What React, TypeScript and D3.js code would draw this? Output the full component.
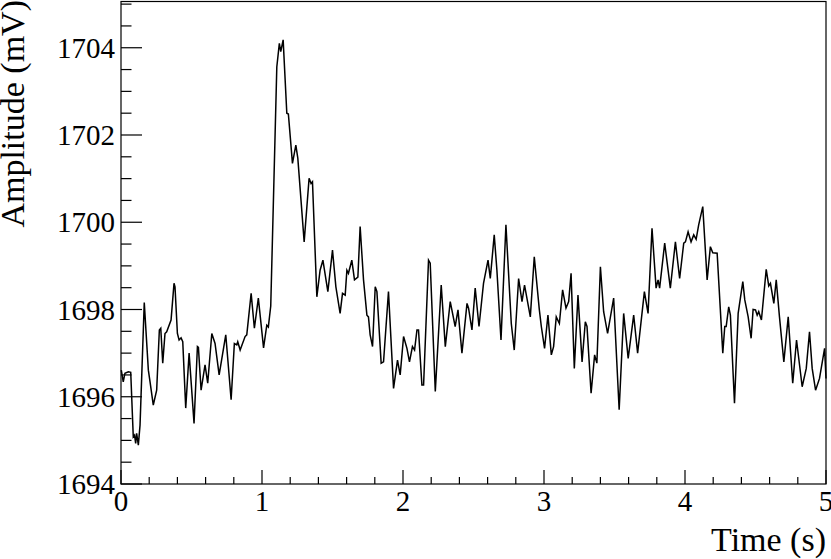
import React from 'react'
import * as d3 from 'd3'

// signal trace
const timeS = [
  0.002, 0.016, 0.028, 0.052, 0.069, 0.087, 0.096, 0.104, 0.111, 0.123,
  0.135, 0.165, 0.194, 0.206, 0.229, 0.253, 0.272, 0.282, 0.296, 0.312,
  0.324, 0.355, 0.376, 0.383, 0.400, 0.412, 0.426, 0.438, 0.459, 0.483,
  0.518, 0.542, 0.549, 0.568, 0.596, 0.615, 0.644, 0.667, 0.696, 0.743,
  0.781, 0.804, 0.821, 0.828, 0.845, 0.880, 0.892, 0.923, 0.946, 0.974,
  1.011, 1.034, 1.045, 1.062, 1.105, 1.123, 1.133, 1.150, 1.176, 1.187,
  1.216, 1.240, 1.254, 1.299, 1.334, 1.348, 1.358, 1.389, 1.412, 1.432,
  1.467, 1.500, 1.524, 1.554, 1.571, 1.590, 1.602, 1.613, 1.637, 1.656,
  1.680, 1.696, 1.720, 1.744, 1.755, 1.767, 1.784, 1.803, 1.815, 1.845,
  1.862, 1.897, 1.933, 1.961, 1.980, 2.004, 2.028, 2.046, 2.067, 2.082,
  2.099, 2.110, 2.134, 2.146, 2.181, 2.193, 2.229, 2.271, 2.300, 2.335,
  2.370, 2.390, 2.418, 2.454, 2.465, 2.489, 2.512, 2.539, 2.571, 2.603,
  2.619, 2.647, 2.666, 2.695, 2.730, 2.768, 2.789, 2.820, 2.844, 2.862,
  2.903, 2.931, 2.967, 2.981, 3.004, 3.028, 3.052, 3.068, 3.087, 3.109,
  3.132, 3.156, 3.175, 3.192, 3.215, 3.241, 3.270, 3.293, 3.305, 3.334,
  3.359, 3.375, 3.400, 3.423, 3.451, 3.494, 3.533, 3.565, 3.597, 3.636,
  3.664, 3.712, 3.738, 3.766, 3.795, 3.809, 3.820, 3.856, 3.896, 3.932,
  3.962, 3.991, 4.003, 4.022, 4.043, 4.062, 4.079, 4.097, 4.126, 4.157,
  4.180, 4.197, 4.228, 4.268, 4.282, 4.292, 4.310, 4.322, 4.351, 4.377,
  4.410, 4.424, 4.448, 4.469, 4.483, 4.500, 4.512, 4.523, 4.542, 4.576,
  4.594, 4.606, 4.630, 4.647, 4.670, 4.701, 4.732, 4.764, 4.791, 4.831,
  4.860, 4.883, 4.902, 4.926, 4.954, 4.990, 5.000,
]

const amplitudeMV = [
  1696.61, 1696.34, 1696.54, 1696.57, 1696.56, 1695.08, 1695.12, 1694.93, 1695.16, 1694.89,
  1695.35, 1698.16, 1696.61, 1696.34, 1695.81, 1696.15, 1697.53, 1697.57, 1696.77, 1697.45,
  1697.49, 1697.76, 1698.60, 1698.52, 1697.45, 1697.30, 1697.35, 1697.26, 1695.74, 1697.00,
  1695.39, 1697.15, 1697.13, 1696.15, 1696.73, 1696.31, 1697.45, 1697.22, 1696.50, 1697.42,
  1695.93, 1697.22, 1697.19, 1697.26, 1697.07, 1697.38, 1697.42, 1698.37, 1697.57, 1698.26,
  1697.12, 1697.64, 1697.60, 1698.08, 1703.56, 1704.10, 1703.91, 1704.18, 1702.50, 1702.48,
  1701.35, 1701.77, 1701.47, 1699.55, 1701.01, 1700.89, 1700.93, 1698.29, 1698.90, 1699.13,
  1698.41, 1699.36, 1698.52, 1697.91, 1698.37, 1698.33, 1698.90, 1698.83, 1699.13, 1698.68,
  1698.74, 1699.90, 1698.68, 1697.87, 1697.83, 1697.42, 1697.15, 1698.52, 1698.41, 1696.77,
  1696.80, 1698.41, 1696.19, 1696.84, 1696.50, 1697.38, 1697.11, 1696.80, 1697.15, 1697.07,
  1697.53, 1697.53, 1696.27, 1696.27, 1699.13, 1699.06, 1696.12, 1698.56, 1697.15, 1698.18,
  1697.61, 1697.99, 1697.00, 1698.14, 1698.03, 1697.53, 1698.49, 1697.61, 1698.60, 1699.13,
  1698.71, 1699.71, 1698.90, 1697.30, 1699.94, 1697.68, 1697.07, 1698.71, 1698.18, 1698.56,
  1697.83, 1699.21, 1697.99, 1697.61, 1697.11, 1697.87, 1696.96, 1697.15, 1697.83, 1697.68,
  1698.45, 1698.03, 1698.18, 1698.83, 1696.65, 1698.33, 1696.80, 1697.72, 1697.61, 1696.08,
  1696.96, 1696.77, 1698.98, 1697.95, 1697.45, 1698.26, 1695.70, 1697.91, 1696.88, 1697.87,
  1697.00, 1698.41, 1697.91, 1699.86, 1698.49, 1698.68, 1698.49, 1699.52, 1698.49, 1699.55,
  1698.71, 1699.52, 1699.55, 1699.78, 1699.55, 1699.71, 1699.61, 1699.94, 1700.36, 1698.68,
  1699.44, 1699.30, 1699.29, 1697.00, 1697.61, 1697.61, 1698.06, 1697.87, 1695.85, 1697.91,
  1698.64, 1698.22, 1697.83, 1697.34, 1698.00, 1697.99, 1697.87, 1697.95, 1697.76, 1698.92,
  1698.54, 1698.60, 1698.14, 1698.68, 1697.83, 1696.80, 1697.83, 1696.31, 1697.30, 1696.23,
  1696.65, 1697.49, 1696.65, 1696.15, 1696.42, 1697.11, 1696.42,
]

const xTickValues = [0, 1, 2, 3, 4, 5]
const yTickValues = [1694, 1696, 1698, 1700, 1702, 1704]

const W = 831
const H = 559
const frame = { left: 121, right: 826, top: 1.5, bottom: 484 }
const font = '"Liberation Serif", "Times New Roman", serif'

export default function App() {
  const x = d3.scaleLinear().domain([0, 5]).range([frame.left, frame.right])
  const y = d3.scaleLinear().domain([1694, 1705.06]).range([frame.bottom, frame.top])

  const pts = timeS.map((t, i) => [t, amplitudeMV[i]] as [number, number])
  const line = d3.line<[number, number]>()
    .x(d => x(d[0]))
    .y(d => y(d[1]))

  // ROOT style ticks: 5 subdivisions on x, 4 on y
  const xMinor = d3.range(0, 5.0001, 0.2).filter(v => Math.abs(v - Math.round(v)) > 1e-6)
  const yMinor = d3.range(1694, 1705.01, 0.5).filter(v => Math.abs(v / 2 - Math.round(v / 2)) > 1e-6)

  return (
    <svg width={W} height={H} style={{ position: 'absolute', left: 0, top: 0, background: '#fff' }}>
      <rect x={0} y={0} width={W} height={H} fill="#fff" />
      <path d={line(pts) || ''} fill="none" stroke="#000" strokeWidth={1.5} strokeLinejoin="miter" />
      <rect x={frame.left} y={frame.top} width={frame.right - frame.left} height={frame.bottom - frame.top}
        fill="none" stroke="#000" strokeWidth={1.2} />

      {/* x axis */}
      {xTickValues.map(v => (
        <g key={'xt' + v}>
          <line x1={x(v)} x2={x(v)} y1={frame.bottom} y2={frame.bottom - 14} stroke="#000" strokeWidth={1.2} />
          <text x={x(v)} y={511} textAnchor="middle" fontFamily={font} fontSize={29}>{v}</text>
        </g>
      ))}
      {xMinor.map(v => (
        <line key={'xm' + v} x1={x(v)} x2={x(v)} y1={frame.bottom} y2={frame.bottom - 7} stroke="#000" strokeWidth={1.2} />
      ))}

      {/* y axis */}
      {yTickValues.map(v => (
        <g key={'yt' + v}>
          <line x1={frame.left} x2={frame.left + 21} y1={y(v)} y2={y(v)} stroke="#000" strokeWidth={1.2} />
          <text x={115} y={y(v)} dy="0.35em" textAnchor="end" fontFamily={font} fontSize={29}>{v}</text>
        </g>
      ))}
      {yMinor.map(v => (
        <line key={'ym' + v} x1={frame.left} x2={frame.left + 10.5} y1={y(v)} y2={y(v)} stroke="#000" strokeWidth={1.2} />
      ))}

      <text x={frame.right} y={551} textAnchor="end" fontFamily={font} fontSize={34}>Time (s)</text>
      <text transform="translate(24,0) rotate(-90)" x={0} y={0} textAnchor="end" fontFamily={font} fontSize={34}>Amplitude (mV)</text>
    </svg>
  )
}
